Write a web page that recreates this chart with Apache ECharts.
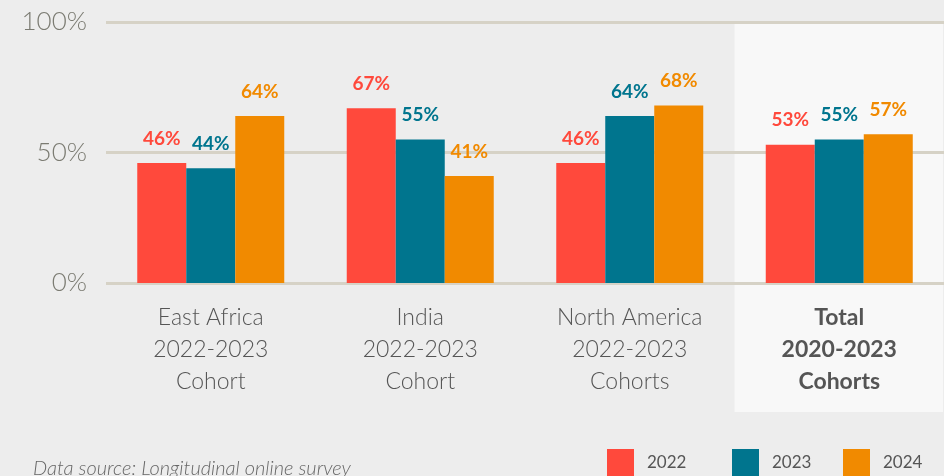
<!DOCTYPE html>
<html>
<head>
<meta charset="utf-8">
<script src="https://cdn.jsdelivr.net/npm/echarts@6/dist/echarts.min.js"></script>
<style>
  html, body { margin: 0; padding: 0; background: #ededed; }
  #chart { width: 944px; height: 476px; }
</style>
</head>
<body>
<div id="chart"></div>
<script>
// data
var categories = [
  'East Africa\n2022-2023\nCohort',
  'India\n2022-2023\nCohort',
  'North America\n2022-2023\nCohorts',
  'Total\n2020-2023\nCohorts'
]
var seriesNames = ['2022', '2023', '2024']
var values2022 = [46, 67, 46, 53]
var values2023 = [44, 55, 64, 55]
var values2024 = [64, 41, 68, 57]
var yTicks = [0, 50, 100]

var colors = ['#ff493c', '#00758e', '#f18a00']
var font = 'Lato, "Noto Sans", sans-serif'

var myChart = echarts.init(document.getElementById('chart'))

function makeSeries(name, data, color) {
  return {
    name: name,
    type: 'bar',
    data: data,
    barWidth: 49,
    barGap: 0,
    itemStyle: { color: color },
    label: {
      show: true,
      position: 'top',
      distance: 15,
      formatter: '{c}%',
      color: color,
      fontFamily: font,
      fontWeight: 'bold',
      fontSize: 19
    }
  }
}

function makeLegend(name, left) {
  return {
    data: [name],
    left: left,
    top: 444,
    itemWidth: 27,
    itemHeight: 27,
    icon: 'rect',
    textStyle: {
      color: '#555',
      fontFamily: font,
      fontSize: 17,
      padding: [0, 0, 0, 8]
    }
  }
}

var option = {
  backgroundColor: '#ededed',
  animation: false,
  title: {
    text: 'Data source: Longitudinal online survey',
    left: 28,
    top: 454,
    textStyle: {
      color: '#666',
      fontFamily: font,
      fontStyle: 'italic',
      fontWeight: 300,
      fontSize: 20
    }
  },
  legend: [
    makeLegend(seriesNames[0], 602),
    makeLegend(seriesNames[1], 727),
    makeLegend(seriesNames[2], 838)
  ],
  grid: {
    left: 106,
    right: 0,
    top: 22,
    bottom: 193,
    containLabel: false
  },
  xAxis: {
    type: 'category',
    data: categories,
    axisLine: { show: false },
    axisTick: { show: false },
    axisLabel: {
      margin: 19,
      interval: 0,
      color: '#555',
      fontFamily: font,
      fontWeight: 300,
      fontSize: 23,
      lineHeight: 32,
      formatter: function (v, i) {
        if (i === 3) {
          return v.split('\n').map(function (s) { return '{b|' + s + '}' }).join('\n')
        }
        return v
      },
      rich: {
        b: {
          color: '#555',
          fontFamily: font,
          fontWeight: 'bold',
          fontSize: 23,
          lineHeight: 32
        }
      }
    }
  },
  yAxis: {
    type: 'value',
    min: yTicks[0],
    max: yTicks[yTicks.length - 1],
    interval: 50,
    axisLine: { show: false },
    axisTick: { show: false },
    axisLabel: {
      margin: 19,
      color: '#7b7b72',
      fontFamily: font,
      fontWeight: 300,
      fontSize: 26,
      formatter: '{value}%'
    },
    splitLine: {
      lineStyle: { color: '#d6d2c6', width: 3 }
    }
  },
  series: [
    makeSeries(seriesNames[0], values2022, colors[0]),
    makeSeries(seriesNames[1], values2023, colors[1]),
    makeSeries(seriesNames[2], values2024, colors[2])
  ]
}
myChart.setOption(option)

// light panel behind the "Total" group
;(function () {
  var center = myChart.convertToPixel({ xAxisIndex: 0 }, 3)
  var band = myChart.getModel().getComponent('xAxis', 0).axis.getBandWidth()
  var top = myChart.convertToPixel({ yAxisIndex: 0 }, yTicks[yTicks.length - 1])
  var base = myChart.convertToPixel({ yAxisIndex: 0 }, yTicks[0])
  myChart.setOption({
    graphic: [{
      type: 'rect',
      z: -10,
      silent: true,
      shape: { x: center - band / 2, y: top + 1, width: band - 1, height: base - top + 128 },
      style: { fill: '#f8f8f8' }
    }]
  })
})()
</script>
</body>
</html>
